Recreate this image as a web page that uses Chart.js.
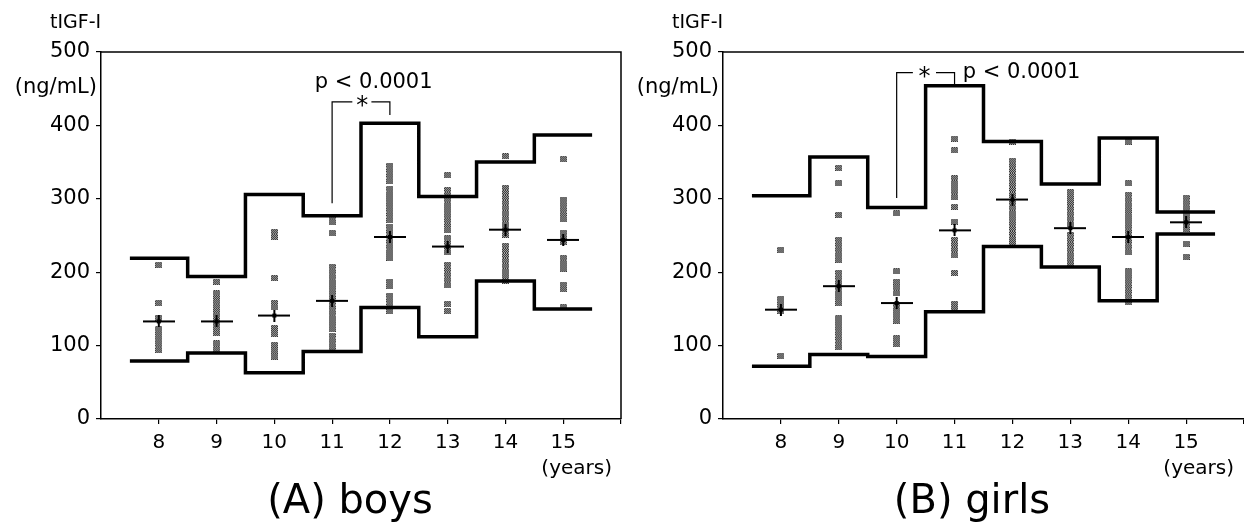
<!DOCTYPE html>
<html>
<head>
<meta charset="utf-8">
<script src="https://cdn.jsdelivr.net/npm/chart.js@4.4.1/dist/chart.umd.min.js"></script>
<style>
  body { margin: 0; background: #fff; }
  .row { display: flex; width: 1244px; height: 526px; }
  canvas { display: block; }
</style>
</head>
<body>
<div class="row">
  <canvas id="chartBoys" width="622" height="526"></canvas>
  <canvas id="chartGirls" width="622" height="526"></canvas>
</div>
<script>
// ages on the x axis and y ticks
const ages = [8, 9, 10, 11, 12, 13, 14, 15];
const yTicks = [0, 100, 200, 300, 400, 500];

// boys: reference range (upper / lower) and means
const boysUpper = [219, 194, 306, 277, 403, 303, 350, 387];
const boysLower = [79, 90, 63, 92, 152, 112, 188, 150];
const boysMean = [133, 133, 141, 161, 248, 235, 258, 244];
// individual values, one list per age
const boysPoints = [
  [210, 158, 138, 122, 116, 110, 104, 98, 94],
  [187, 171, 165, 159, 153, 147, 141, 135, 129, 123, 117, 103, 95],
  [255, 248, 192, 158, 152, 124, 116, 101, 93, 85],
  [275, 268, 253, 207, 200, 193, 186, 179, 172, 165, 158, 151, 144, 137, 130, 123, 113, 106, 99, 94],
  [345, 338, 331, 324, 313, 306, 299, 292, 285, 278, 271, 262, 255, 248, 241, 234, 227, 220, 187, 181, 168, 161, 154, 147],
  [332, 312, 305, 298, 291, 284, 277, 270, 263, 257, 246, 240, 233, 227, 210, 203, 196, 189, 182, 157, 147],
  [358, 315, 308, 301, 294, 287, 280, 272, 265, 258, 251, 236, 229, 222, 215, 208, 201, 194, 188],
  [354, 299, 292, 285, 278, 272, 254, 247, 241, 219, 212, 205, 183, 177, 152]
];
const boysBracketX = [11, 11, 11.35, 11.5, 11.68, 12, 12];
const boysBracketY = [294, 432, 432, null, 432, 432, 414];

// girls
const girlsUpper = [304, 357, 288, 454, 378, 320, 383, 282];
const girlsLower = [72, 88, 85, 146, 235, 207, 161, 252];
const girlsMean = [149, 181, 158, 257, 299, 260, 248, 268];
const girlsPoints = [
  [230, 163, 157, 151, 147, 86],
  [342, 321, 278, 244, 237, 230, 223, 217, 199, 192, 185, 178, 171, 164, 158, 137, 130, 123, 116, 109, 102, 98],
  [280, 201, 187, 179, 171, 155, 148, 141, 134, 110, 102],
  [382, 366, 328, 321, 314, 307, 302, 289, 269, 244, 237, 230, 223, 199, 157, 151],
  [378, 352, 345, 338, 331, 326, 319, 312, 305, 294, 287, 280, 273, 266, 259, 252, 245, 240],
  [309, 301, 293, 286, 279, 272, 265, 251, 244, 237, 230, 223, 217, 210],
  [378, 321, 305, 298, 291, 285, 276, 269, 262, 255, 248, 241, 234, 227, 201, 194, 187, 180, 173, 166, 159],
  [301, 294, 287, 280, 273, 266, 259, 239, 221]
];
const girlsBracketX = [10, 10, 10.28, 10.5, 10.68, 11, 11];
const girlsBracketY = [301, 472, 472, null, 472, 472, 455];

const FONT = '"DejaVu Sans", sans-serif';

// dithered grey square used for the single values
const dotImg = document.createElement('canvas');
dotImg.width = 7; dotImg.height = 6;
(() => {
  const c = dotImg.getContext('2d');
  for (let i = 0; i < 7; i++)
    for (let j = 0; j < 6; j++) {
      c.fillStyle = (i + j) % 2 ? '#333' : '#a8a8a8';
      c.fillRect(i, j, 1, 1);
    }
})();

// mean marker: long horizontal bar with short vertical bar
const crossImg = document.createElement('canvas');
crossImg.width = 32; crossImg.height = 12;
(() => {
  const c = crossImg.getContext('2d');
  c.fillStyle = '#000';
  c.fillRect(0, 5, 32, 2);
  c.fillRect(15, 0, 2, 12);
  c.fillRect(14, 4, 4, 4);
})();

const stepData = (vals) => {
  const d = ages.map((a, i) => ({ x: a - 0.5, y: vals[i] }));
  d.push({ x: ages[ages.length - 1] + 0.5, y: vals[vals.length - 1] });
  return d;
};

const extras = {
  id: 'extras',
  afterDraw(chart, args, o) {
    const { ctx, chartArea: a, scales: { x, y } } = chart;
    ctx.save();
    ctx.strokeStyle = '#000';
    ctx.lineWidth = 1.5;
    ctx.beginPath();
    ctx.moveTo(a.left, a.top);
    ctx.lineTo(a.right, a.top);
    if (o.rightBorder) ctx.lineTo(a.right, a.bottom);
    ctx.stroke();

    ctx.fillStyle = '#000';
    ctx.textBaseline = 'middle';
    ctx.font = '19px ' + FONT;
    ctx.textAlign = 'left';
    ctx.fillText('tIGF-I', 50, 23);
    ctx.textAlign = 'right';
    ctx.font = '21px ' + FONT;
    ctx.fillText('(ng/mL)', 97, y.getPixelForValue(452));
    ctx.font = '20px ' + FONT;
    ctx.fillText('(years)', 612, 469);

    ctx.textAlign = 'center';
    ctx.textBaseline = 'alphabetic';
    ctx.font = '40px ' + FONT;
    ctx.fillText(o.title, 350, 513);

    ctx.textBaseline = 'middle';
    ctx.font = '24px ' + FONT;
    ctx.fillText('*', x.getPixelForValue(o.starX), y.getPixelForValue(o.starY) + 5);
    ctx.font = '21px ' + FONT;
    ctx.textAlign = o.pAlign;
    ctx.fillText('p < 0.0001', x.getPixelForValue(o.pX), y.getPixelForValue(o.pY));
    ctx.restore();
  }
};

const makeChart = (id, cfg) => {
  const dots = [];
  ages.forEach((a, i) => cfg.points[i].forEach((v) => dots.push({ x: a, y: v })));

  const ctx = document.getElementById(id).getContext('2d');
  return new Chart(ctx, {
    type: 'scatter',
    data: {
      datasets: [
        {
          label: 'mean',
          data: ages.map((a, i) => ({ x: a, y: cfg.mean[i] })),
          pointStyle: crossImg,
          pointRadius: 6,
          order: 0
        },
        {
          type: 'line',
          label: 'upper',
          data: stepData(cfg.upper),
          stepped: 'before',
          borderColor: '#000',
          borderWidth: 3.5,
          pointRadius: 0,
          order: 1
        },
        {
          type: 'line',
          label: 'lower',
          data: stepData(cfg.lower),
          stepped: 'before',
          borderColor: '#000',
          borderWidth: 3.5,
          pointRadius: 0,
          order: 1
        },
        {
          type: 'line',
          label: 'bracket',
          data: cfg.bracketX.map((bx, i) => ({ x: bx, y: cfg.bracketY[i] })),
          borderColor: '#000',
          borderWidth: 1.2,
          pointRadius: 0,
          spanGaps: false,
          order: 1
        },
        {
          label: 'values',
          data: dots,
          pointStyle: dotImg,
          pointRadius: 3,
          order: 2
        }
      ]
    },
    options: {
      responsive: false,
      animation: false,
      layout: { autoPadding: false, padding: { top: 52, right: cfg.padRight, left: 0, bottom: 0 } },
      scales: {
        x: {
          type: 'linear',
          min: 7,
          max: 16,
          afterBuildTicks: (s) => {
            s.ticks = ages.concat([16]).map((v) => ({ value: v }));
          },
          afterFit: (s) => {
            s.height = 107;
            s.paddingLeft = 0;
            s.paddingRight = 0;
          },
          ticks: {
            callback: (v) => (ages.includes(v) ? v : ''),
            autoSkip: false,
            maxRotation: 0,
            padding: 7,
            color: '#000',
            font: { family: FONT, size: 20 }
          },
          grid: { drawOnChartArea: false, tickLength: 5, color: '#000', lineWidth: 1.2 },
          border: { color: '#000', width: 1.5 }
        },
        y: {
          min: 0,
          max: 500,
          afterBuildTicks: (s) => {
            s.ticks = yTicks.map((v) => ({ value: v }));
          },
          afterFit: (s) => {
            s.width = 101;
            s.paddingTop = 0;
            s.paddingBottom = 0;
          },
          ticks: {
            padding: 6,
            color: '#000',
            font: { family: FONT, size: 21 }
          },
          grid: { drawOnChartArea: false, tickLength: 5, color: '#000', lineWidth: 1.2 },
          border: { color: '#000', width: 1.5 }
        }
      },
      plugins: {
        legend: { display: false },
        tooltip: { enabled: false },
        extras: cfg.extras
      }
    },
    plugins: [extras]
  });
};

makeChart('chartBoys', {
  points: boysPoints,
  mean: boysMean,
  upper: boysUpper,
  lower: boysLower,
  bracketX: boysBracketX,
  bracketY: boysBracketY,
  padRight: 1,
  extras: { title: '(A) boys', rightBorder: true, starX: 11.52, starY: 432, pX: 11.72, pY: 458, pAlign: 'center' }
});

makeChart('chartGirls', {
  points: girlsPoints,
  mean: girlsMean,
  upper: girlsUpper,
  lower: girlsLower,
  bracketX: girlsBracketX,
  bracketY: girlsBracketY,
  padRight: 0,
  extras: { title: '(B) girls', rightBorder: false, starX: 10.48, starY: 472, pX: 11.14, pY: 472, pAlign: 'left' }
});
</script>
</body>
</html>
